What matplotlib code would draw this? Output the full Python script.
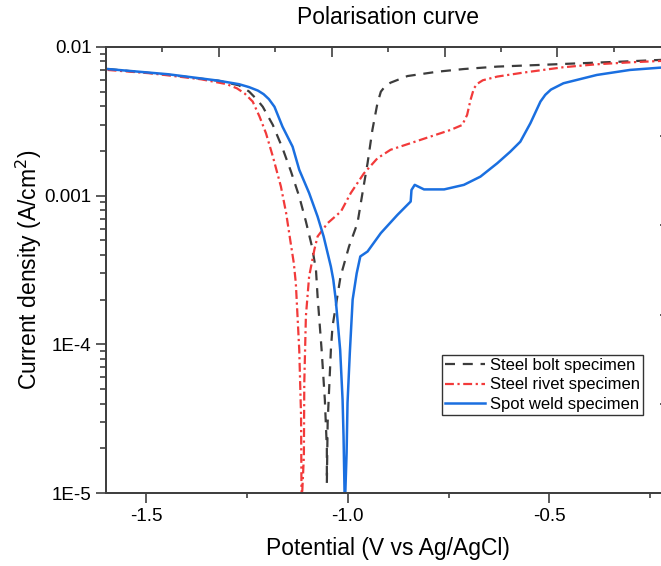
import matplotlib
matplotlib.use('Agg')
import matplotlib.pyplot as plt
from matplotlib.ticker import FixedLocator, LogLocator, NullFormatter, MultipleLocator

# ---------- Data ---------- #

# Steel bolt specimen
bolt_v = [-1.596, -1.45, -1.32, -1.27, -1.245, -1.225, -1.211, -1.186, -1.162, -1.141,
          -1.1205, -1.104, -1.089, -1.079, -1.075, -1.065, -1.057, -1.052, -1.052,
          -1.050, -1.042, -1.038, -1.018, -0.997, -0.976, -0.9636, -0.951, -0.939,
          -0.9265, -0.918, -0.908, -0.894, -0.852, -0.778, -0.712, -0.629, -0.530,
          -0.423, -0.324, -0.225, -0.20]
bolt_j = [7.08e-3, 6.5e-3, 5.9e-3, 5.5e-3, 5.0e-3, 4.4e-3, 3.95e-3, 2.98e-3, 2.08e-3, 1.45e-3,
          9.84e-4, 6.70e-4, 4.55e-4, 3.17e-4, 2.10e-4, 9.2e-5, 4.26e-5, 2.0e-5, 1.17e-5,
          3.0e-5, 9.2e-5, 1.32e-4, 2.86e-4, 4.55e-4, 6.53e-4, 1.04e-3, 1.65e-3, 2.76e-3,
          4.17e-3, 4.99e-3, 5.4e-3, 5.73e-3, 6.35e-3, 6.79e-3, 7.08e-3, 7.35e-3, 7.53e-3,
          7.74e-3, 7.93e-3, 8.15e-3, 8.2e-3]

# Steel rivet specimen
rivet_v = [-1.596, -1.488, -1.364, -1.30, -1.275, -1.256, -1.236, -1.219, -1.203, -1.186,
           -1.166, -1.153, -1.143, -1.134, -1.129, -1.1205, -1.116, -1.115, -1.114,
           -1.109, -1.108, -1.104, -1.096, -1.083, -1.075, -1.050, -1.017, -0.9926,
           -0.960, -0.9265, -0.894, -0.844, -0.795, -0.745, -0.716, -0.704, -0.6955,
           -0.687, -0.678, -0.665, -0.629, -0.564, -0.465, -0.382, -0.300, -0.225, -0.20]
rivet_j = [6.98e-3, 6.62e-3, 6.04e-3, 5.6e-3, 5.25e-3, 4.85e-3, 4.28e-3, 3.39e-3, 2.62e-3, 1.83e-3,
           1.15e-3, 7.62e-4, 5.05e-4, 3.52e-4, 2.58e-4, 9.2e-5, 3.29e-5, 1.09e-5, 9.0e-6,
           1.77e-5, 5.5e-5, 1.55e-4, 2.86e-4, 4.33e-4, 5.31e-4, 6.53e-4, 7.82e-4, 1.04e-3,
           1.41e-3, 1.78e-3, 2.03e-3, 2.25e-3, 2.49e-3, 2.76e-3, 2.98e-3, 3.48e-3, 4.39e-3,
           5.26e-3, 5.65e-3, 5.95e-3, 6.30e-3, 6.70e-3, 7.28e-3, 7.62e-3, 7.85e-3, 8.02e-3, 8.05e-3]

# Spot weld specimen
weld_v = [-1.596, -1.446, -1.3225, -1.27, -1.245, -1.223, -1.209, -1.196, -1.182, -1.162, -1.137,
          -1.1205, -1.096, -1.075, -1.060, -1.042, -1.036, -1.030, -1.019, -1.013,
          -1.0106, -1.0074, -1.0074, -1.003, -1.0007, -0.995, -0.988, -0.978, -0.969,
          -0.951, -0.918, -0.877, -0.844, -0.842, -0.834, -0.811, -0.761, -0.712,
          -0.671, -0.629, -0.597, -0.572, -0.547, -0.522, -0.510, -0.496, -0.465, -0.382,
          -0.300, -0.225, -0.20]
weld_j = [7.08e-3, 6.53e-3, 5.92e-3, 5.6e-3, 5.35e-3, 5.07e-3, 4.8e-3, 4.45e-3, 3.95e-3, 2.90e-3, 2.13e-3,
          1.49e-3, 1.04e-3, 7.23e-4, 5.31e-4, 3.33e-4, 2.72e-4, 2.00e-4, 9.2e-5, 4.26e-5,
          2.42e-5, 8.0e-6, 8.0e-6, 1.87e-5, 4.06e-5, 8.8e-5, 2.0e-4, 3.0e-4, 3.9e-4,
          4.21e-4, 5.60e-4, 7.41e-4, 9.12e-4, 1.09e-3, 1.18e-3, 1.10e-3, 1.10e-3, 1.18e-3,
          1.34e-3, 1.65e-3, 1.97e-3, 2.30e-3, 3.06e-3, 4.28e-3, 4.75e-3, 5.15e-3, 5.68e-3, 6.46e-3,
          6.98e-3, 7.23e-3, 7.25e-3]

labels = ['Steel bolt specimen', 'Steel rivet specimen', 'Spot weld specimen']
x_ticks = [-1.5, -1.0, -0.5]
x_ticklabels = ['-1.5', '-1.0', '-0.5']
y_ticks = [1e-5, 1e-4, 1e-3, 1e-2]
y_ticklabels = ['1E-5', '1E-4', '0.001', '0.01']

# ---------- Style ---------- #

plt.rcParams['font.family'] = ['Liberation Sans', 'DejaVu Sans']
axis_col = '#404040'

fig = plt.figure(figsize=(6.61, 5.66), dpi=100)
ax = fig.add_axes([0.16036, 0.12845, 0.8536, 0.78905])

# ---------- Curves ---------- #

ax.plot(bolt_v, bolt_j, color='#3c3c3c', lw=1.6, linestyle=(0, (4.5, 3.5)),
        label=labels[0])
ax.plot(rivet_v, rivet_j, color='#f23a3a', lw=1.6,
        linestyle=(0, (4, 1.6, 1, 1.6)), label=labels[1])
ax.plot(weld_v, weld_j, color='#1a6fe0', lw=1.8, label=labels[2])

ax.set_yscale('log')
ax.set_xlim(-1.6, -0.2)
ax.set_ylim(1e-5, 1e-2)

ax.xaxis.set_major_locator(FixedLocator(x_ticks))
ax.set_xticklabels(x_ticklabels)
ax.xaxis.set_minor_locator(MultipleLocator(0.25))
ax.yaxis.set_major_locator(FixedLocator(y_ticks))
ax.set_yticklabels(y_ticklabels)
ax.yaxis.set_minor_locator(LogLocator(base=10, subs=range(2, 10)))
ax.yaxis.set_minor_formatter(NullFormatter())

ax.tick_params(which='both', direction='out', color=axis_col, width=1.2,
               labelsize=13.5, top=False, right=False)
ax.tick_params(which='major', length=7)
ax.tick_params(which='minor', length=3.5)
ax.tick_params(axis='y', which='minor', length=4.5)
for sp in ax.spines.values():
    sp.set_color(axis_col)
    sp.set_linewidth(1.2)

# ---------- Top / right frame ticks ---------- #

ax_top = ax.twiny()
ax_top.set_xlim(0, 5)
ax_top.xaxis.set_major_locator(MultipleLocator(1))
ax_top.xaxis.set_minor_locator(MultipleLocator(0.5))
ax_top.tick_params(which='both', direction='in', color=axis_col, width=1.2,
                   labeltop=False)
ax_top.tick_params(which='major', length=7)
ax_top.tick_params(which='minor', length=3.5)

ax_r = ax.twinx()
ax_r.set_ylim(0, 1)
ax_r.yaxis.set_major_locator(FixedLocator([0.2, 0.4, 0.6, 0.8]))
ax_r.tick_params(direction='in', length=7, color=axis_col, width=1.2,
                 labelright=False)
for a in (ax_top, ax_r):
    for sp in a.spines.values():
        sp.set_color(axis_col)
        sp.set_linewidth(1.2)

# ---------- Labels ---------- #

ax.set_xlabel('Potential (V vs Ag/AgCl)', fontsize=16.5, labelpad=9)
ax.set_ylabel('Current density (A/cm$^2$)', fontsize=16.5, labelpad=0)
ax.set_title('Polarisation curve', fontsize=16.5, pad=16)

leg = ax.legend(loc='upper left', bbox_to_anchor=(0.595, 0.31), fontsize=12,
                frameon=True, fancybox=False, edgecolor='black',
                borderaxespad=0, borderpad=0.2, handlelength=2.4,
                handletextpad=0.3, labelspacing=0.25)
leg.get_frame().set_linewidth(1.0)

fig.savefig('out.png', dpi=100)
